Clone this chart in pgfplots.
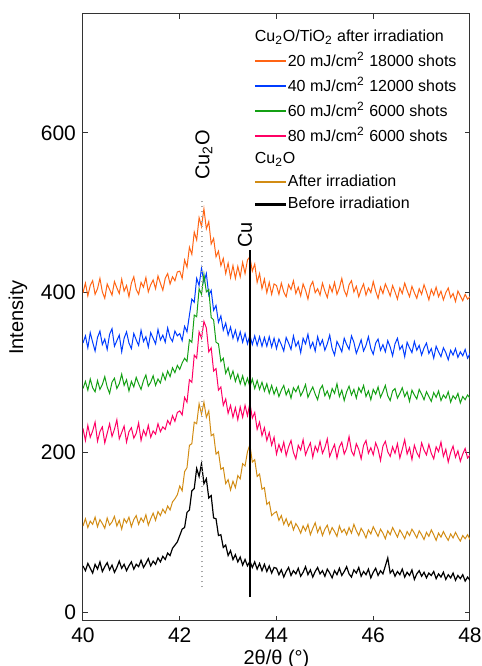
\documentclass[border=0pt]{standalone}
\usepackage{pgfplots}
\usepackage{pgfplotstable}
\usepackage{fontspec}
\setmainfont{Liberation Sans}
\pgfplotsset{compat=1.18}

\definecolor{c20}{RGB}{255,100,20}
\definecolor{c40}{RGB}{0,60,255}
\definecolor{c60}{RGB}{20,160,20}
\definecolor{c80}{RGB}{255,0,100}
\definecolor{cafter}{RGB}{210,140,20}

% x = 2theta, o/b/g/p = Cu2O/TiO2 at 20/40/60/80 mJ, t = Cu2O after, k = Cu2O before
\pgfplotstableread{
x o b g p t k
40.00 400 337 280 230 108 58
40.05 412 346 289 215 117 52
40.10 396 331 278 234 106 61
40.15 409 350 292 219 114 55
40.20 415 338 281 227 110 49
40.25 398 327 276 238 119 60
40.30 405 344 290 214 107 54
40.35 418 352 279 226 116 63
40.40 401 335 285 232 111 51
40.45 393 342 295 212 105 57
40.50 411 329 282 224 118 62
40.55 404 348 274 236 109 53
40.60 397 355 288 220 113 59
40.65 414 333 293 229 120 50
40.70 406 340 280 241 108 56
40.75 399 347 286 217 115 64
40.80 417 326 298 225 104 55
40.85 402 343 284 233 117 60
40.90 409 351 291 213 112 52
40.95 395 337 277 226 119 58
41.00 412 330 289 231 107 63
41.05 420 349 282 218 116 54
41.10 404 341 294 224 121 60
41.15 398 334 286 237 110 57
41.20 413 353 279 215 118 65
41.25 407 339 290 228 113 56
41.30 419 345 297 221 122 61
41.35 401 332 283 234 109 67
41.40 410 350 288 219 117 58
41.45 416 343 296 227 124 64
41.50 405 336 284 223 115 60
41.55 421 354 292 236 126 68
41.60 412 341 287 226 121 63
41.65 403 347 299 232 129 70
41.70 418 338 291 229 124 66
41.75 424 356 302 240 133 74
41.80 411 344 295 235 128 71
41.85 420 339 306 246 138 80
41.90 415 352 300 239 142 84
41.95 426 346 309 250 147 88
42.00 427 349 304 252 158 96
42.05 418 340 312 247 152 104
42.10 441 358 318 269 176 106
42.15 432 351 314 263 181 125
42.20 457 372 341 291 209 128
42.25 448 392 338 288 211 152
42.30 476 388 372 322 238 155
42.35 466 418 370 318 236 180
42.40 494 409 405 351 261 170
42.45 483 431 398 343 248 186
42.50 505 413 423 364 263 161
42.55 480 424 401 356 244 167
42.60 489 397 404 326 252 143
42.65 461 403 369 331 221 146
42.70 468 378 366 302 223 118
42.75 445 384 338 305 198 117
42.80 452 363 336 278 201 96
42.85 434 371 314 282 179 97
42.90 443 353 318 259 181 81
42.95 424 362 299 267 161 84
43.00 437 347 306 249 166 71
43.05 419 357 293 259 153 77
43.10 434 343 302 244 164 66
43.15 418 353 289 256 156 72
43.20 433 340 298 241 171 63
43.25 420 351 286 257 167 69
43.30 438 338 296 244 186 59
43.35 424 349 284 259 183 66
43.40 441 336 293 246 201 58
43.45 445 347 282 262 210 64
43.50 427 335 292 243 188 56
43.55 436 346 280 250 191 63
43.60 413 334 290 229 170 54
43.65 424 345 279 238 173 61
43.70 405 333 288 221 154 52
43.75 417 344 277 231 156 60
43.80 400 333 286 215 135 51
43.85 413 345 274 225 138 58
43.90 398 332 284 209 121 49
43.95 411 343 273 219 124 56
44.00 409 330 281 198 126 55
44.05 398 342 270 210 115 47
44.10 412 335 278 201 121 53
44.15 401 327 284 213 110 44
44.20 395 344 272 196 117 51
44.25 410 337 279 207 108 56
44.30 404 329 268 215 114 46
44.35 415 346 281 200 103 52
44.40 399 333 276 192 111 48
44.45 407 339 283 209 106 55
44.50 396 325 271 203 99 45
44.55 411 343 277 216 108 50
44.60 403 336 285 197 102 57
44.65 392 348 269 205 110 47
44.70 408 331 276 212 97 53
44.75 414 338 282 194 105 44
44.80 400 327 273 208 112 51
44.85 405 345 266 201 100 56
44.90 397 334 279 214 107 48
44.95 412 341 284 199 96 52
45.00 402 328 271 206 104 45
45.05 394 336 277 217 109 54
45.10 409 347 268 195 98 49
45.15 401 330 280 203 106 43
45.20 413 322 274 210 101 52
45.25 398 339 286 193 95 47
45.30 406 333 270 207 108 55
45.35 418 326 278 213 100 46
45.40 403 343 265 198 104 51
45.45 396 335 276 205 97 57
45.50 410 329 283 220 106 48
45.55 415 346 272 202 99 44
45.60 401 338 279 196 110 53
45.65 408 324 268 211 102 49
45.70 395 332 281 204 96 56
45.75 404 341 275 192 105 45
45.80 411 327 284 209 100 51
45.85 397 334 270 215 93 47
45.90 406 345 277 199 103 54
45.95 400 330 266 206 98 43
46.00 414 323 279 197 107 50
46.05 402 337 273 212 101 55
46.10 393 342 282 204 95 46
46.15 407 328 269 190 104 52
46.20 399 335 276 208 99 48
46.25 411 326 284 214 92 58
46.30 404 340 271 201 102 68
46.35 396 332 265 195 97 49
46.40 409 321 277 207 106 53
46.45 401 336 280 199 100 45
46.50 392 343 268 211 94 51
46.55 406 329 274 193 103 47
46.60 399 334 281 204 98 54
46.65 412 320 270 216 92 44
46.70 403 338 276 198 101 50
46.75 395 331 264 206 96 46
46.80 408 325 278 191 104 53
46.85 400 339 272 209 99 41
46.90 393 328 267 200 93 48
46.95 405 334 279 194 102 52
47.00 398 322 273 212 97 45
47.05 410 331 266 203 91 50
47.10 401 337 276 197 100 43
47.15 391 324 270 210 95 49
47.20 404 330 264 199 103 46
47.25 397 318 275 192 97 51
47.30 407 333 269 207 90 42
47.35 395 326 277 201 99 48
47.40 402 320 265 213 94 44
47.45 391 331 272 195 101 50
47.50 400 325 268 204 95 41
47.55 406 316 276 188 90 47
47.60 394 328 263 200 98 43
47.65 399 322 271 208 93 49
47.70 389 330 267 194 100 40
47.75 402 319 274 202 94 46
47.80 396 326 262 189 89 42
47.85 390 321 270 198 96 47
47.90 398 329 266 205 92 39
47.95 392 318 272 193 97 44
48.00 395 324 268 197 91 40
}\xrd

\begin{document}
\begin{tikzpicture}
\begin{axis}[
  name=ax,
  scale only axis,
  width=193.5pt, height=303.5pt,
  xmin=40, xmax=48, ymin=-11, ymax=749,
  xtick={40,42,...,48},
  ytick={0,200,400,600},
  tick align=inside,
  major tick length=2.5pt,
  axis line style={black!80, line width=0.5pt},
  tick style={black!80, line width=0.5pt},
  /pgf/number format/assume math mode=true,
  tick label style={font=\fontsize{10.5}{12}\selectfont},
  label style={font=\fontsize{10}{12}\selectfont},
  xlabel={2θ/θ (°)},
  xlabel style={yshift=3.5pt},
  ylabel={Intensity},
  legend style={at={(0.443,0.978)}, anchor=north west, draw=none, fill=none,
    font=\fontsize{8}{9.6}\selectfont, row sep=2pt, inner sep=0pt,
    nodes={inner sep=1pt}},
  legend cell align=left,
  legend image code/.code={\fill[#1] (0pt,-0.35pt) rectangle (15pt,0.35pt);},
  every axis plot/.append style={line width=0.5pt},
]
\addplot[c20, forget plot] table[x=x, y=o] {\xrd};
\addplot[c40, forget plot] table[x=x, y=b] {\xrd};
\addplot[c60, forget plot] table[x=x, y=g] {\xrd};
\addplot[c80, forget plot] table[x=x, y=p] {\xrd};
\addplot[cafter, forget plot] table[x=x, y=t] {\xrd};
\addplot[black, line width=0.6pt, forget plot] table[x=x, y=k] {\xrd};

% reference positions
\addplot[gray!70, dotted, line width=0.6pt, forget plot] coordinates {(42.46,31) (42.46,519)};
\addplot[black, line width=1pt, forget plot] coordinates {(43.45,19) (43.45,453)};
\node[rotate=90, anchor=west, inner sep=0pt, font=\fontsize{10}{12}\selectfont] at (axis cs:42.50,541) {Cu\textsubscript{2}O};
\node[rotate=90, anchor=west, inner sep=0pt, font=\fontsize{10}{12}\selectfont] at (axis cs:43.35,456) {Cu};

\addlegendimage{empty legend}
\addlegendentry{\hspace*{-16.5pt}Cu\textsubscript{2}O/TiO\textsubscript{2} after irradiation}
\addlegendimage{c20}
\addlegendentry{20 mJ/cm\textsuperscript{2} 18000 shots}
\addlegendimage{c40}
\addlegendentry{40 mJ/cm\textsuperscript{2} 12000 shots}
\addlegendimage{c60}
\addlegendentry{60 mJ/cm\textsuperscript{2} 6000 shots}
\addlegendimage{c80}
\addlegendentry{80 mJ/cm\textsuperscript{2} 6000 shots}
\addlegendimage{empty legend}
\addlegendentry{\hspace*{-16.5pt}Cu\textsubscript{2}O}
\addlegendimage{cafter}
\addlegendentry{After irradiation}
\addlegendimage{black}
\addlegendentry{Before irradiation}
\end{axis}
\pgfresetboundingbox
\path ([xshift=-41.5pt,yshift=-22.5pt]ax.south west) rectangle ([xshift=5.5pt,yshift=7pt]ax.north east);
\end{tikzpicture}
\end{document}
